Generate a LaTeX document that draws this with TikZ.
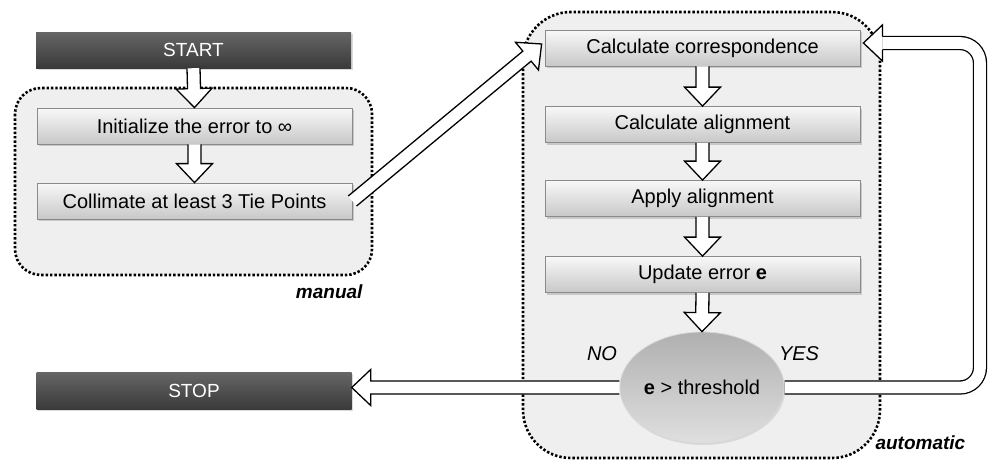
\documentclass[tikz,border=0pt]{standalone}
\usepackage{fontspec}
\setmainfont{Liberation Sans}
\usetikzlibrary{calc,shadows,shapes.geometric}
\newcommand{\harrow}[2]{%
  \path (#1) coordinate (ha) (#2) coordinate (hb);
  \path ($(hb)!19pt!(ha)$) coordinate (hc);
  \draw[hollow] ($(ha)!6.5pt!90:(hb)$) -- ($(hc)!6.5pt!90:(hb)$) -- ($(hc)!18pt!90:(hb)$) -- (hb)
     -- ($(hc)!18pt!-90:(hb)$) -- ($(hc)!6.5pt!-90:(hb)$) -- ($(ha)!6.5pt!-90:(hb)$);
}
\newcommand{\hhead}[2]{%
  \path (#1) coordinate (ha) (#2) coordinate (hb);
  \path ($(hb)!19pt!(ha)$) coordinate (hc);
  \draw[hollow] ($(hc)!6.5pt!90:(hb)$) -- ($(hc)!18pt!90:(hb)$) -- (hb)
     -- ($(hc)!18pt!-90:(hb)$) -- ($(hc)!6.5pt!-90:(hb)$);
}
\definecolor{regfill}{HTML}{EFEFEF}
\definecolor{boxtop}{HTML}{F8F8F8}
\definecolor{boxbot}{HTML}{C8C8C8}
\definecolor{boxline}{HTML}{8A8A8A}
\definecolor{darktop}{HTML}{666666}
\definecolor{darkbot}{HTML}{3A3A3A}
\tikzset{
  region/.style={fill=regfill, draw=black, line width=2.6pt, dash pattern=on 2.4pt off 2pt},
  lightbox/.style={draw=boxline, line width=0.8pt, top color=boxtop, bottom color=boxbot,
    minimum width=315pt, minimum height=36pt, inner sep=0pt, font=\fontsize{20}{22}\selectfont,
    drop shadow={opacity=0.35, shadow xshift=1.5pt, shadow yshift=-2pt}},
  darkbox/.style={draw=none, top color=darktop, bottom color=darkbot, text=white,
    minimum width=315pt, minimum height=36pt, inner sep=0pt, font=\fontsize{19}{21}\selectfont,
    drop shadow={opacity=0.3, shadow xshift=1.5pt, shadow yshift=-2pt}},
  decision/.style={ellipse, draw=gray!30, line width=0.8pt, top color=gray!62, bottom color=gray!25,
    minimum width=154pt, minimum height=111pt, inner sep=0pt, font=\fontsize{20}{22}\selectfont,
    drop shadow={opacity=0.2, shadow xshift=1pt, shadow yshift=-2pt}},
  hollow/.style={fill=white, draw=black, line width=1.3pt, line join=miter},
  dbl/.style={draw=black, double=white, double distance=11.7pt, line width=1.3pt},
  lab/.style={font=\fontsize{20}{22}\selectfont\itshape},
  blab/.style={font=\fontsize{19}{21}\selectfont\bfseries\itshape},
}
\begin{document}
\begin{tikzpicture}[x=1pt,y=-1pt]
\useasboundingbox (0,0) rectangle (1000,471);
% regions
\draw[region, rounded corners=26pt] (15,88) rectangle (372,275);
\draw[region, rounded corners=48pt] (523,12) rectangle (880,458);
\node[blab, anchor=east] (lman) at (366,292) {manual};
\node[blab, anchor=west] (lauto) at (872,443) {automatic};
% nodes
\node[darkbox] (start) at (193.5,50) {START};
\node[lightbox] (init) at (194.5,126) {Initialize the error to ∞};
\node[lightbox] (coll) at (194.5,201) {Collimate at least 3 Tie Points};
\node[darkbox, minimum height=37pt] (stop) at (194,390.5) {STOP};
\node[lightbox] (corr) at (702.5,48) {Calculate correspondence};
\node[lightbox] (calign) at (702.5,124.5) {Calculate alignment};
\node[lightbox] (apply) at (702.5,198.5) {Apply alignment};
\node[lightbox] (update) at (702.5,274.5) {Update error \textbf{e}};
\node[decision] (ell) at (702,387.5) {\textbf{e} > threshold};
\node[lab] (no) at (602,354) {NO};
\node[lab] (yes) at (799,354) {YES};
% connectors
\harrow{start.south}{init.north}
\harrow{init.south}{coll.north}
\harrow{coll.east}{$(corr.west)+(-3,-4)$}
\harrow{corr.south}{calign.north}
\harrow{calign.south}{apply.north}
\harrow{apply.south}{update.north}
\harrow{update.south}{ell.north}
\harrow{ell.west}{ell.west -| stop.east}
\coordinate (tip) at ($(corr.east)+(3,-5)$);
\coordinate (lr) at (980,387);
\draw[dbl, rounded corners=20pt] (ell.east) -- (ell.east -| lr) -- (lr |- tip) -- ($(tip)+(19,0)$);
\hhead{$(tip)+(40,0)$}{tip}
\end{tikzpicture}
\end{document}
